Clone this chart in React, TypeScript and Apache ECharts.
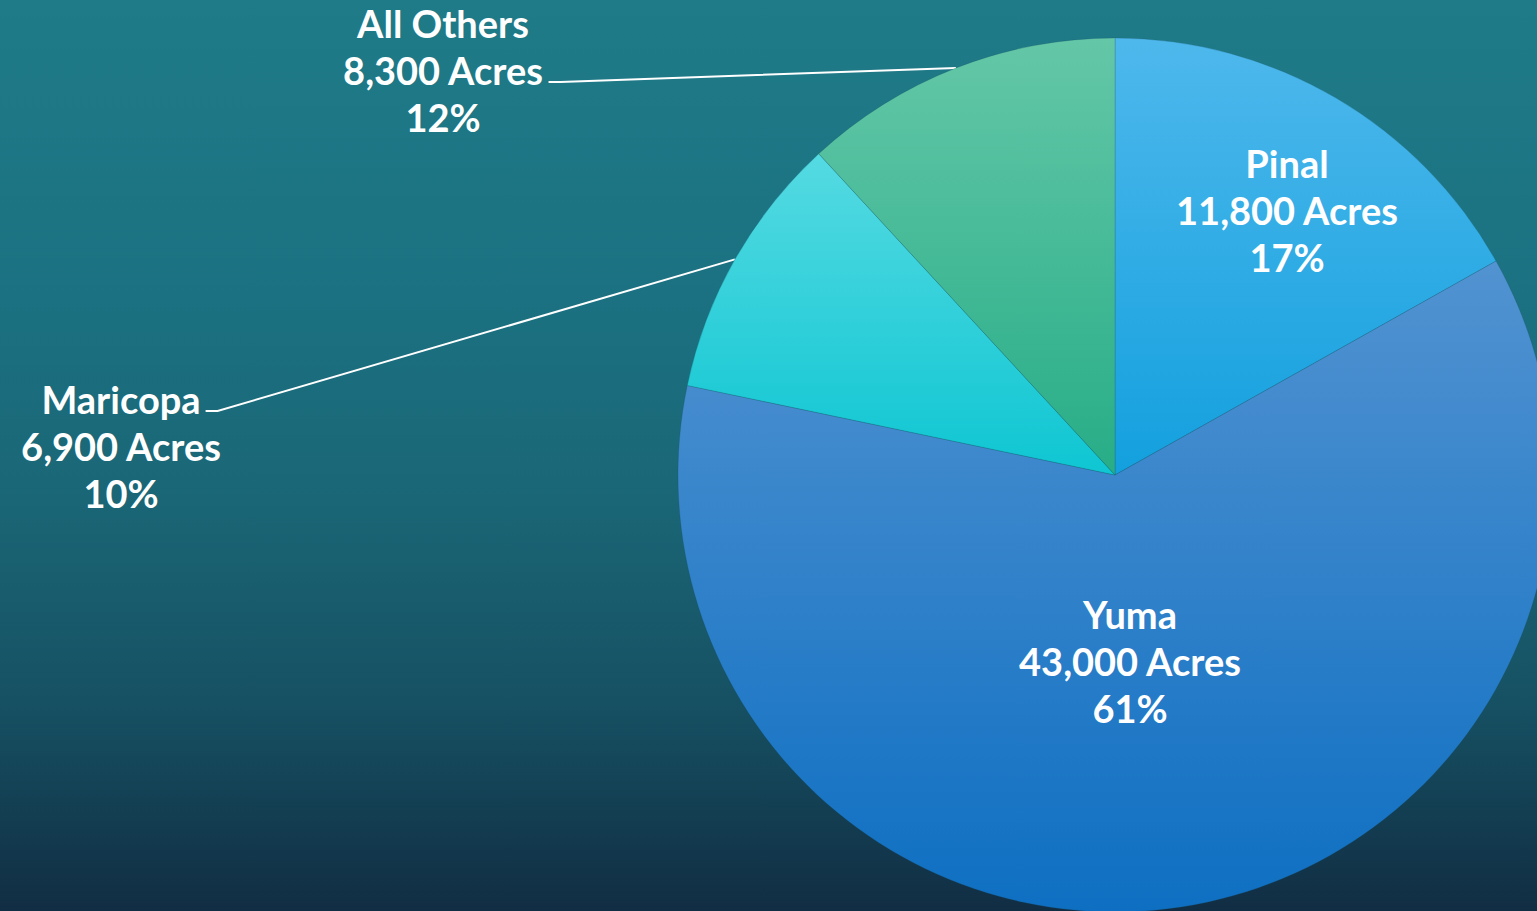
import React, { useEffect, useRef } from "react";
import * as echarts from "echarts";

// ---- data ----
const categories: string[] = ["Pinal", "Yuma", "Maricopa", "All Others"];
const acres: number[] = [11800, 43000, 6900, 8300];

// ---- styling / layout (not data) ----
const sliceColors: string[][] = [
  ["#4eb8ec", "#13a0de"],
  ["#5293d1", "#0e6fc2"],
  ["#55dae2", "#0ec6d2"],
  ["#64c7a7", "#27ad87"],
];
const labelCenters: number[][] = [
  [1287, 210],
  [1130, 661],
  [121, 446],
  [443, 70],
];
const labelOutside: boolean[] = [false, false, true, true];
const leaderRow: number[] = [0, 0, 0, 1];

const PIE_CX = 1115;
const PIE_CY = 475;
const PIE_R = 437;
const FONT_FAMILY = "Lato";
const FONT_SIZE = 38;
const LINE_H = 47;

const total = acres.reduce((a, b) => a + b, 0);

function labelText(i: number): string {
  const v = acres[i];
  const pct = Math.round((v / total) * 100);
  return `${categories[i]}\n${v.toLocaleString("en-US")} Acres\n${pct}%`;
}

let measureCtx: CanvasRenderingContext2D | null = null;
function measure(text: string): number {
  if (!measureCtx) {
    const c = document.createElement("canvas");
    measureCtx = c.getContext("2d");
  }
  if (!measureCtx) return text.length * FONT_SIZE * 0.55;
  measureCtx.font = `bold ${FONT_SIZE}px ${FONT_FAMILY}`;
  return measureCtx.measureText(text).width;
}

function edgePoint(i: number): number[] {
  let before = 0;
  for (let k = 0; k < i; k++) before += acres[k];
  const mid = (before + acres[i] / 2) / total;
  const theta = mid * Math.PI * 2;
  return [PIE_CX + PIE_R * Math.sin(theta), PIE_CY - PIE_R * Math.cos(theta)];
}

export default function App() {
  const ref = useRef<HTMLDivElement>(null);

  useEffect(() => {
    if (!ref.current) return;
    const chart = echarts.init(ref.current, undefined, { renderer: "svg" });

    const data = categories.map((name, i) => ({
      name,
      value: acres[i],
      itemStyle: {
        color: {
          type: "linear",
          x: 0,
          y: 0,
          x2: 0,
          y2: 1,
          colorStops: [
            { offset: 0, color: sliceColors[i][0] },
            { offset: 1, color: sliceColors[i][1] },
          ],
        },
      },
      label: { position: labelOutside[i] ? "outside" : "inside" },
      labelLine: { show: labelOutside[i] },
    }));

    chart.setOption({
      animation: false,
      backgroundColor: {
        type: "linear",
        x: 0,
        y: 0,
        x2: 0,
        y2: 1,
        colorStops: [
          { offset: 0, color: "#1f7b88" },
          { offset: 0.33, color: "#1b7181" },
          { offset: 0.55, color: "#1a6676" },
          { offset: 0.77, color: "#165163" },
          { offset: 1, color: "#112d43" },
        ],
      },
      series: [
        {
          type: "pie",
          center: [PIE_CX, PIE_CY],
          radius: [0, PIE_R],
          startAngle: 90,
          clockwise: true,
          avoidLabelOverlap: false,
          itemStyle: {
            borderColor: "rgba(20,70,90,0.35)",
            borderWidth: 0.6,
          },
          label: {
            show: true,
            color: "#ffffff",
            fontFamily: FONT_FAMILY,
            fontWeight: "bold",
            fontSize: FONT_SIZE,
            lineHeight: LINE_H,
            align: "center",
            formatter: (p: any) => labelText(p.dataIndex),
          },
          labelLine: {
            lineStyle: { color: "#ffffff", width: 2 },
            length: 20,
            length2: 10,
          },
          labelLayout: (params: any) => {
            const i = params.dataIndex;
            const [cx, cy] = labelCenters[i];
            const res: any = {
              x: cx,
              y: cy,
              align: "center",
              verticalAlign: "middle",
            };
            if (labelOutside[i]) {
              const lines = labelText(i).split("\n");
              const row = leaderRow[i];
              const w = measure(lines[row]);
              const top = cy - (LINE_H * lines.length) / 2;
              const ly = top + LINE_H * row + LINE_H / 2 + 12;
              const lx = cx + w / 2 + 5;
              const anchor =
                params.labelLinePoints && params.labelLinePoints[0]
                  ? params.labelLinePoints[0]
                  : edgePoint(i);
              res.labelLinePoints = [anchor, [lx + 12, ly], [lx, ly]];
            }
            return res;
          },
          data,
        },
      ],
    });

    return () => {
      chart.dispose();
    };
  }, []);

  return (
    <div
      ref={ref}
      style={{ position: "fixed", left: 0, top: 0, width: 1537, height: 911 }}
    />
  );
}
